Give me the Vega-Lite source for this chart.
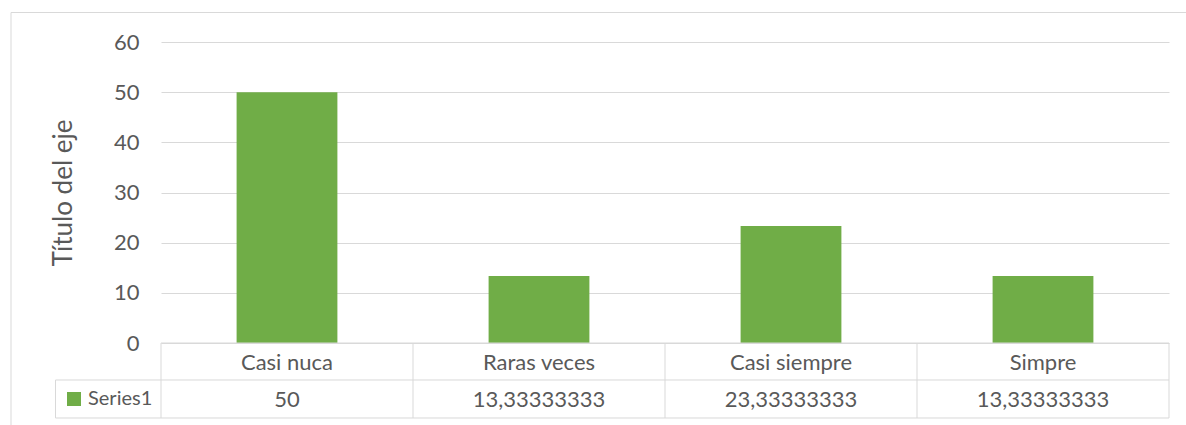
{
  "$schema": "https://vega.github.io/schema/vega-lite/v6.json",
  "width": 1008,
  "height": 301,
  "autosize": {"type": "none"},
  "padding": {"left": 161, "top": 42, "right": 17, "bottom": 82},
  "background": "white",
  "config": {"view": {"stroke": null}, "font": "Lato"},
  "data": {"values": [
    {"cat": "Casi nuca", "value": 50, "label": "50", "series": "Series1"},
    {"cat": "Raras veces", "value": 13.33333333, "label": "13,33333333", "series": "Series1"},
    {"cat": "Casi siempre", "value": 23.33333333, "label": "23,33333333", "series": "Series1"},
    {"cat": "Simpre", "value": 13.33333333, "label": "13,33333333", "series": "Series1"}
  ]},
  "resolve": {"scale": {"x": "independent"}},
  "layer": [
    {
      "mark": {"type": "bar", "width": {"band": 0.4}},
      "encoding": {
        "x": {"field": "cat", "type": "nominal", "axis": null,
              "scale": {"domain": ["Casi nuca", "Raras veces", "Casi siempre", "Simpre"], "paddingInner": 0, "paddingOuter": 0}},
        "y": {"field": "value", "type": "quantitative", "title": "Título del eje",
              "scale": {"domain": [0, 60], "nice": false, "zero": false},
              "axis": {"values": [0, 10, 20, 30, 40, 50, 60], "grid": true, "gridColor": "#d9d9d9", "domain": false, "ticks": false,
                       "labelPadding": 22, "labelFontSize": 22, "labelColor": "#595959", "labelFont": "Lato",
                       "titleFontSize": 26, "titleColor": "#595959", "titleFontWeight": "normal", "titleFont": "Lato", "titlePadding": 37}},
        "color": {"field": "series", "type": "nominal", "scale": {"range": ["#70ad47"]},
                  "legend": {"orient": "none", "legendX": -97, "legendY": 347, "title": null, "symbolType": "square", "symbolSize": 196,
                             "symbolStrokeWidth": 0, "labelFontSize": 20, "labelColor": "#595959", "labelFont": "Lato", "labelOffset": 4}}
      }
    },
    {
      "mark": {"type": "text", "fontSize": 22, "color": "#595959", "font": "Lato", "baseline": "middle"},
      "encoding": {
        "x": {"field": "cat", "type": "nominal", "axis": null,
              "scale": {"domain": ["Casi nuca", "Raras veces", "Casi siempre", "Simpre"], "paddingInner": 0, "paddingOuter": 0}},
        "y": {"datum": -3.9},
        "text": {"field": "cat"}
      }
    },
    {
      "mark": {"type": "text", "fontSize": 22, "color": "#595959", "font": "Lato", "baseline": "middle"},
      "encoding": {
        "x": {"field": "cat", "type": "nominal", "axis": null,
              "scale": {"domain": ["Casi nuca", "Raras veces", "Casi siempre", "Simpre"], "paddingInner": 0, "paddingOuter": 0}},
        "y": {"datum": -11.3},
        "text": {"field": "label"}
      }
    },
    {
      "mark": {"type": "rule", "color": "#d9d9d9", "strokeWidth": 1},
      "encoding": {
        "x": {"field": "cat", "type": "nominal", "axis": null, "bandPosition": 0,
              "scale": {"domain": ["Casi nuca", "Raras veces", "Casi siempre", "Simpre"], "paddingInner": 0, "paddingOuter": 0}},
        "y": {"datum": 0},
        "y2": {"datum": -14.95}
      }
    },
    {
      "transform": [{"filter": "datum.cat === 'Simpre'"}],
      "mark": {"type": "rule", "color": "#d9d9d9", "strokeWidth": 1},
      "encoding": {
        "x": {"field": "cat", "type": "nominal", "axis": null, "bandPosition": 1,
              "scale": {"domain": ["Casi nuca", "Raras veces", "Casi siempre", "Simpre"], "paddingInner": 0, "paddingOuter": 0}},
        "y": {"datum": 0},
        "y2": {"datum": -14.95}
      }
    },
    {
      "data": {"values": [
        {"x": -0.5952, "x2": 4.08, "y": 65.88, "y2": 65.88},
        {"x": -0.5952, "x2": -0.5952, "y": 65.88, "y2": -16.6},
        {"x": -0.4187, "x2": 4, "y": -7.375, "y2": -7.375},
        {"x": -0.4187, "x2": 4, "y": -14.95, "y2": -14.95},
        {"x": -0.4187, "x2": -0.4187, "y": -7.375, "y2": -14.95},
        {"x": 0, "x2": 4, "y": 0, "y2": 0}
      ]},
      "mark": {"type": "rule", "color": "#d9d9d9", "strokeWidth": 1},
      "encoding": {
        "x": {"field": "x", "type": "quantitative", "axis": null, "scale": {"domain": [0, 4], "nice": false, "zero": false}},
        "x2": {"field": "x2"},
        "y": {"field": "y", "type": "quantitative"},
        "y2": {"field": "y2"}
      }
    }
  ]
}
